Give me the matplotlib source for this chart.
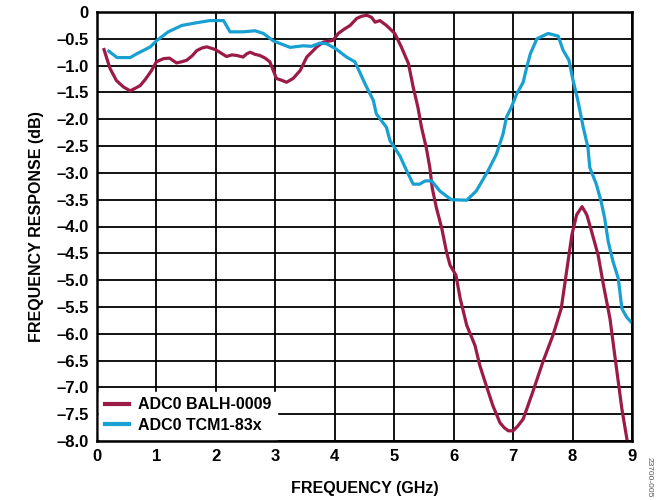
import matplotlib
matplotlib.use("Agg")
import matplotlib.pyplot as plt
from matplotlib.ticker import FuncFormatter

plt.rcParams['font.family'] = ['Liberation Sans', 'DejaVu Sans']
plt.rcParams['font.weight'] = 'bold'

# ADC0 BALH-0009
balh_freq = [0.12, 0.22, 0.33, 0.45, 0.56, 0.65, 0.73, 0.82, 0.92, 1.0, 1.12, 1.22, 1.34, 1.42,
             1.51, 1.60, 1.68, 1.77, 1.85, 1.99, 2.08, 2.18, 2.27, 2.35, 2.46, 2.52, 2.58, 2.66,
             2.74, 2.83, 2.91, 3.02, 3.10, 3.19, 3.30, 3.42, 3.53, 3.62, 3.70, 3.81, 3.97, 4.06,
             4.16, 4.26, 4.37, 4.45, 4.54, 4.62, 4.68, 4.76, 4.87, 5.01, 5.12, 5.24, 5.32, 5.40,
             5.46, 5.54, 5.60, 5.64, 5.71, 5.80, 5.88, 5.94, 6.04, 6.11, 6.22, 6.36, 6.44, 6.55,
             6.66, 6.78, 6.85, 6.92, 7.00, 7.08, 7.17, 7.33, 7.50, 7.67, 7.81, 7.90, 7.99, 8.07,
             8.16, 8.24, 8.32, 8.43, 8.52, 8.63, 8.74, 8.83, 8.92]
balh_db = [-0.70, -1.05, -1.28, -1.40, -1.47, -1.42, -1.37, -1.25, -1.09, -0.93, -0.87, -0.86,
           -0.95, -0.93, -0.90, -0.82, -0.72, -0.67, -0.65, -0.70, -0.76, -0.83, -0.80, -0.81,
           -0.84, -0.78, -0.75, -0.79, -0.81, -0.86, -0.93, -1.24, -1.27, -1.31, -1.24, -1.09,
           -0.84, -0.74, -0.65, -0.56, -0.53, -0.40, -0.32, -0.25, -0.12, -0.08, -0.06, -0.10,
           -0.19, -0.16, -0.25, -0.40, -0.65, -0.96, -1.40, -1.78, -2.15, -2.53, -2.90, -3.28,
           -3.65, -4.03, -4.47, -4.72, -4.91, -5.34, -5.84, -6.22, -6.59, -6.97, -7.34, -7.66,
           -7.75, -7.81, -7.81, -7.72, -7.59, -7.09, -6.53, -6.03, -5.53, -4.84, -4.15, -3.78,
           -3.63, -3.78, -4.09, -4.53, -5.09, -5.72, -6.65, -7.40, -8.0]

# ADC0 TCM1-83x
tcm_freq = [0.20, 0.34, 0.56, 0.67, 0.90, 1.01, 1.20, 1.43, 1.68, 1.90, 2.13, 2.24, 2.46, 2.66,
            2.80, 2.97, 3.25, 3.47, 3.61, 3.75, 3.86, 4.01, 4.20, 4.34, 4.42, 4.51, 4.65, 4.70,
            4.87, 4.93, 5.10, 5.21, 5.32, 5.43, 5.52, 5.63, 5.77, 5.96, 6.22, 6.38, 6.58, 6.72,
            6.83, 6.89, 6.97, 7.06, 7.17, 7.23, 7.29, 7.40, 7.59, 7.76, 7.84, 7.94, 8.01, 8.09,
            8.18, 8.26, 8.29, 8.40, 8.48, 8.54, 8.60, 8.68, 8.77, 8.83, 8.91, 9.0]
tcm_db = [-0.73, -0.85, -0.85, -0.78, -0.65, -0.53, -0.37, -0.25, -0.20, -0.16, -0.16, -0.37,
          -0.37, -0.35, -0.40, -0.54, -0.66, -0.63, -0.64, -0.58, -0.59, -0.68, -0.84, -0.93,
          -1.12, -1.34, -1.65, -1.90, -2.15, -2.40, -2.69, -2.96, -3.21, -3.21, -3.15, -3.15,
          -3.34, -3.50, -3.51, -3.34, -2.96, -2.65, -2.28, -1.96, -1.78, -1.53, -1.31, -1.03,
          -0.78, -0.50, -0.40, -0.45, -0.71, -0.90, -1.28, -1.65, -2.15, -2.53, -2.90, -3.21,
          -3.53, -3.84, -4.28, -4.65, -4.97, -5.53, -5.69, -5.80]

x_ticks = list(range(0, 10))
y_ticks = [-8.0 + 0.5 * i for i in range(17)]

fig = plt.figure(figsize=(6.59, 5.0), dpi=100)
ax = fig.add_axes([0.147, 0.118, 0.812, 0.858])

ax.plot(balh_freq, balh_db, color='#9c1b46', lw=2.3, label='ADC0 BALH-0009')
ax.plot(tcm_freq, tcm_db, color='#18a0d2', lw=2.3, label='ADC0 TCM1-83x')

ax.set_xlim(0, 9)
ax.set_ylim(-8, 0)
ax.set_xticks(x_ticks)
ax.set_yticks(y_ticks)
ax.yaxis.set_major_formatter(FuncFormatter(lambda v, p: '0' if v == 0 else ('%.1f' % v).replace('-', '\u2013')))
ax.grid(True, color='black', lw=1.3)
ax.tick_params(length=0, labelsize=12, pad=6)
for s in ax.spines.values():
    s.set_linewidth(1.8)

ax.set_xlabel('FREQUENCY (GHz)', fontsize=11.5, fontweight='bold', labelpad=12)
ax.set_ylabel('FREQUENCY RESPONSE (dB)', fontsize=11.5, fontweight='bold', labelpad=9)

leg = ax.legend(loc='lower left', fontsize=11.5, frameon=True, fancybox=False,
                handlelength=1.5, handletextpad=0.6, borderpad=0.35, labelspacing=0.35,
                borderaxespad=0.15)
leg.get_frame().set_edgecolor('white')
leg.get_frame().set_alpha(1)
for t in leg.get_texts():
    t.set_fontweight('bold')
for h in leg.get_lines():
    h.set_linewidth(3)

fig.text(0.985, 0.005, '23700-005', rotation=270, fontsize=6, color='#555555',
         fontweight='normal', ha='center', va='bottom')

fig.savefig('out.png', dpi=100)
